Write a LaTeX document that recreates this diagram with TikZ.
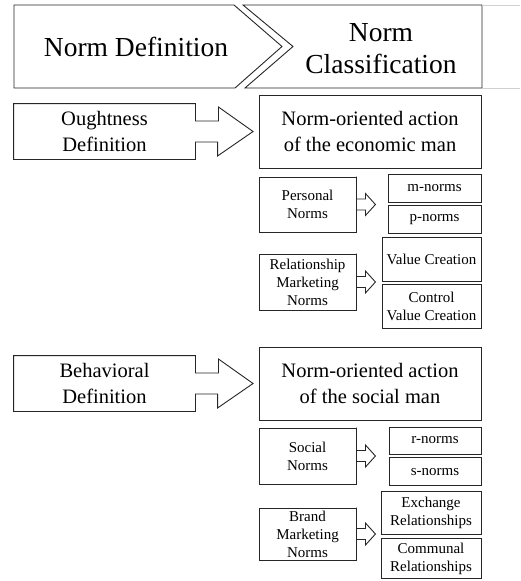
\documentclass[tikz,border=0pt]{standalone}
\usepackage{fontspec}
\setmainfont{Liberation Serif}
\usetikzlibrary{positioning}

\begin{document}
\begin{tikzpicture}[x=1pt,y=-1pt,line width=0.9pt,
                    every node/.style={inner sep=0pt,align=center}]
  \tikzstyle{box}=[draw=black!85]
  \tikzstyle{outline}=[draw=black!85,line join=miter]
  \tikzstyle{faint}=[draw=black!18,line width=0.6pt]
  \tikzstyle{head}=[font=\fontsize{27.5}{32.3}\selectfont]
  \tikzstyle{big}=[font=\fontsize{20.5}{25.5}\selectfont]
  \tikzstyle{small}=[font=\fontsize{15}{18}\selectfont]

  \useasboundingbox (0,0) rectangle (520,581);

  % header
  \draw[outline] (14,5) -- (234,5) -- (282,46.5) -- (235,88) -- (14,88) -- cycle;
  \draw[outline] (243,5) -- (482,5) -- (482,88) -- (245,88) -- (293,46.5) -- cycle;
  \draw[faint] (482,5) -- (520,5);
  \draw[faint] (482,88) -- (520,88);
  \node[head] (ndef) at (136,47)   {Norm Definition};
  \node[head] (ncls) at (381,48.5) {Norm\\Classification};

  % definitions
  \node[big,minimum width=181pt,minimum height=55pt] (ought) at (104.5,131.5) {Oughtness\\Definition};
  \node[big,minimum width=181pt,minimum height=55pt] (behav) at (104.5,383.5) {Behavioral\\Definition};

  \node[box,big,minimum width=222pt,minimum height=73pt] (econ) at (370,131.5) {Norm-oriented action\\of the economic man};
  \node[box,big,minimum width=222pt,minimum height=73pt] (soc)  at (370,383.5) {Norm-oriented action\\of the social man};

  % economic man
  \node[box,small,minimum width=97pt,minimum height=55pt] (pers)  at (307.5,204.5) {Personal\\Norms};
  \node[box,small,minimum width=93pt,minimum height=28pt] (mnorm) at (434.5,188)   {m-norms};
  \node[box,small,minimum width=93pt,minimum height=28pt] (pnorm) [below=3pt of mnorm] {p-norms};

  \node[box,small,minimum width=97pt,minimum height=56pt] (relm)  at (307.5,282)   {Relationship\\Marketing\\Norms};
  \node[box,small,minimum width=99pt,minimum height=44pt] (vcre)  at (431.5,259)   {Value Creation};
  \node[box,small,minimum width=99pt,minimum height=44pt] (cvcre) [below=3pt of vcre] {Control\\Value Creation};

  % social man
  \node[box,small,minimum width=97pt,minimum height=56pt] (socn)  at (307.5,456)   {Social\\Norms};
  \node[box,small,minimum width=92pt,minimum height=27pt] (rnorm) at (435,440.5)   {r-norms};
  \node[box,small,minimum width=92pt,minimum height=28pt] (snorm) [below=3pt of rnorm] {s-norms};

  \node[box,small,minimum width=97pt,minimum height=52pt] (brand) at (307.5,534)   {Brand\\Marketing\\Norms};
  \node[box,small,minimum width=100pt,minimum height=43pt] (exch) at (431,512.5)   {Exchange\\Relationships};
  \node[box,small,minimum width=100pt,minimum height=40pt] (comm) [below=4pt of exch] {Communal\\Relationships};

  % big arrows
  \draw[outline] (ought.north west) -- (ought.north east) -- ([yshift=10.5pt]ought.east)
        -- ++(23,0) -- ++(0,-14) -- ([xshift=-5.5pt]econ.west) -- ++(-35.5,24.5) -- ++(0,-14)
        -- ([yshift=-10.5pt]ought.east) -- (ought.south east) -- (ought.south west) -- cycle;
  \draw[outline] (behav.north west) -- (behav.north east) -- ([yshift=10.5pt]behav.east)
        -- ++(23,0) -- ++(0,-14) -- ([xshift=-5.5pt]soc.west) -- ++(-35.5,24.5) -- ++(0,-14)
        -- ([yshift=-10.5pt]behav.east) -- (behav.south east) -- (behav.south west) -- cycle;

  % small arrows
  \draw[outline] (pers.north east) -- ([yshift=5.5pt]pers.east) -- ++(9,0) -- ++(0,-5.5)
        -- ++(10,11) -- ++(-10,11) -- ++(0,-5.5) -- ([yshift=-5.5pt]pers.east) -- (pers.south east);
  \draw[outline] (relm.north east) -- ([yshift=5.5pt]relm.east) -- ++(9,0) -- ++(0,-5.5)
        -- ++(10,11) -- ++(-10,11) -- ++(0,-5.5) -- ([yshift=-5.5pt]relm.east) -- (relm.south east);
  \draw[outline] (socn.north east) -- ([yshift=5.5pt]socn.east) -- ++(9,0) -- ++(0,-5.5)
        -- ++(10,11) -- ++(-10,11) -- ++(0,-5.5) -- ([yshift=-5.5pt]socn.east) -- (socn.south east);
  \draw[outline] (brand.north east) -- ([yshift=5.5pt]brand.east) -- ++(9,0) -- ++(0,-5.5)
        -- ++(10,11) -- ++(-10,11) -- ++(0,-5.5) -- ([yshift=-5.5pt]brand.east) -- (brand.south east);
\end{tikzpicture}
\end{document}
